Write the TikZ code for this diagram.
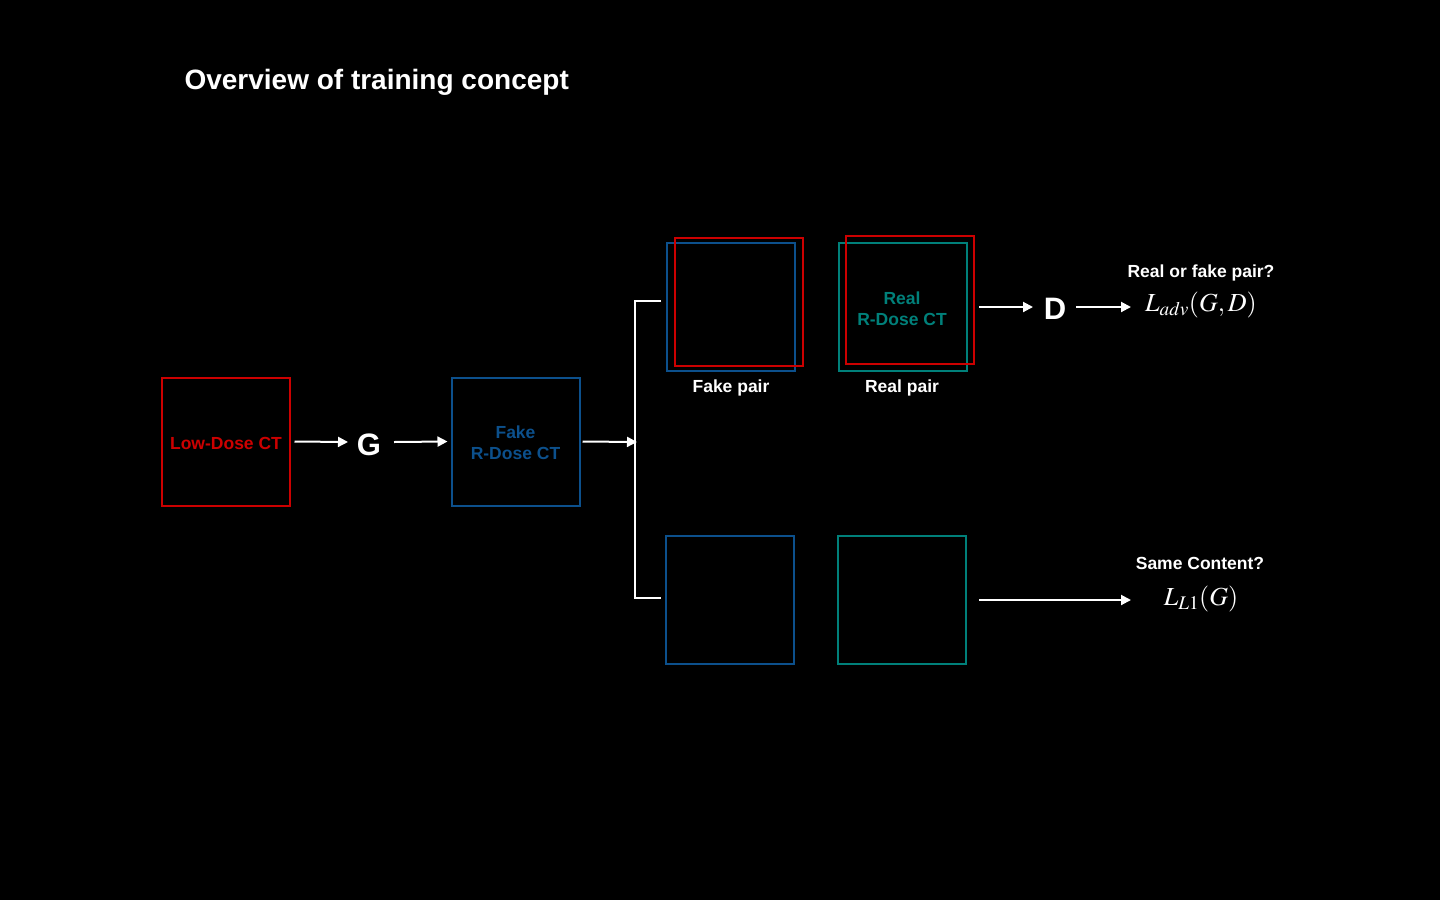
\documentclass[tikz,border=0pt]{standalone}
\usepackage{mathptmx}
\usepackage[no-math]{fontspec}
\setmainfont{Liberation Sans}
\usetikzlibrary{arrows.meta}
\definecolor{cred}{RGB}{204,0,0}
\definecolor{cblue}{RGB}{12,80,140}
\definecolor{cteal}{RGB}{0,128,122}
\tikzset{
  img/.style={draw=#1, line width=2pt, minimum width=128pt, minimum height=128pt, inner sep=0pt},
  lbl/.style={text=white, font=\fontsize{17.5}{20}\selectfont\bfseries},
  inlbl/.style={text=#1, font=\fontsize{17.5}{21}\selectfont\bfseries, align=center},
  big/.style={text=white, font=\fontsize{31}{34}\selectfont\bfseries},
  mth/.style={text=white, font=\fontsize{26}{30}\selectfont},
  arr/.style={draw=white, line width=2pt, -{Triangle[length=10pt,width=10pt]}},
  ln/.style={draw=white, line width=2pt}
}
\begin{document}
\begin{tikzpicture}[x=1pt,y=-1pt]
\fill[black] (0,0) rectangle (1440,900);
\useasboundingbox (0,0) rectangle (1440,900);
\node[anchor=west, text=white, font=\fontsize{28}{31}\selectfont\bfseries] (title) at (181,82) {Overview of training concept};

\node[img=cred] (low) at (225.5,441.5) {};
\node[inlbl=cred] (lowt) at (226,443) {Low-Dose CT};
\node[big] (G) at (369,445) {G};
\node[img=cblue] (fake) at (515.5,441.5) {};
\node[inlbl=cblue] (faket) at (515.5,443) {Fake\\R-Dose CT};
\coordinate (g1) at (348,442);
\coordinate (g2) at (394,442);
\coordinate (br) at (637,442);
\coordinate (btop) at (635,301);
\coordinate (bbot) at (635,598);
\coordinate (stop) at (661,301);
\coordinate (sbot) at (661,598);

\draw[arr] ([xshift=4pt]low.east) -- (g1);
\draw[arr] (g2) -- ([xshift=-3pt]fake.west);
\draw[arr] ([xshift=2pt]fake.east) -- (br);
\draw[ln] (stop) -- (btop) -- (bbot) -- (sbot);

% fake pair
\node[img=cblue] (fp1) at (730.5,306.5) {};
\node[img=cred] (fp2) at (738.5,301.5) {};
\node[lbl] (fpl) at (731,387.5) {Fake pair};
% real pair
\node[img=cteal] (rp1) at (902.5,306.5) {};
\node[img=cred] (rp2) at (909.5,300) {};
\node[inlbl=cteal] (rpt) at (902,308.5) {Real\\R-Dose CT};
\node[lbl] (rpl) at (902,387.5) {Real pair};

\coordinate (a1) at (979,307);
\coordinate (d1) at (1033,307);
\coordinate (d2) at (1076,307);
\coordinate (e1) at (1131,307);
\node[big] (D) at (1055,309) {D};
\node[mth] (Ladv) at (1201,305) {$L_{adv}(G,D)$};
\node[lbl] (q1) at (1201,272.5) {Real or fake pair?};
\draw[arr] (a1) -- (d1);
\draw[arr] (d2) -- (e1);

% bottom
\node[img=cblue] (b1) at (729.5,600) {};
\node[img=cteal] (b2) at (901.5,600) {};
\coordinate (a2) at (979,600);
\coordinate (e2) at (1131,600);
\node[mth] (L1) at (1201,599) {$L_{L1}(G)$};
\node[lbl] (q2) at (1200,563.5) {Same Content?};
\draw[arr] (a2) -- (e2);
\end{tikzpicture}
\end{document}
